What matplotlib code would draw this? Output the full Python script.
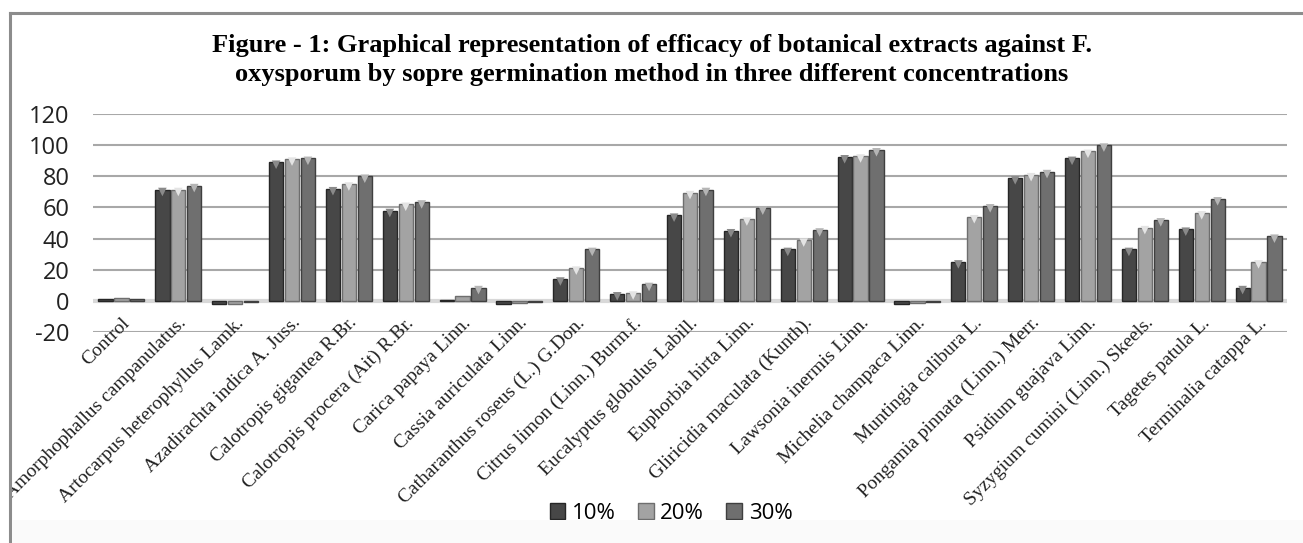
import matplotlib.pyplot as plt
import numpy as np
from matplotlib.lines import Line2D
from matplotlib.patches import Rectangle
from matplotlib.transforms import Bbox, TransformedBbox

plt.rcParams["axes.unicode_minus"] = False

# extracts tested, in chart order
extracts = [
    "Control",
    "Amorphophallus campanulatus.",
    "Artocarpus heterophyllus Lamk.",
    "Azadirachta indica A. Juss.",
    "Calotropis gigantea R.Br.",
    "Calotropis procera (Ait) R.Br.",
    "Carica papaya Linn.",
    "Cassia auriculata Linn.",
    "Catharanthus roseus (L.) G.Don.",
    "Citrus limon (Linn.) Burm.f.",
    "Eucalyptus globulus Labill.",
    "Euphorbia hirta Linn.",
    "Gliricidia maculata (Kunth).",
    "Lawsonia inermis Linn.",
    "Michelia champaca Linn.",
    "Muntingia calibura L.",
    "Pongamia pinnata (Linn.) Merr.",
    "Psidium guajava Linn.",
    "Syzygium cumini (Linn.) Skeels.",
    "Tagetes patula L.",
    "Terminalia catappa L.",
]

# efficacy (%) at three concentrations
conc_10 = [1.5, 71.5, -2, 89, 72, 58, 0.5, -2, 14, 4.5, 55, 45, 33, 92.5, -2, 25, 79, 91.5, 33, 46, 8.5]
conc_20 = [2, 71.5, -2, 91, 75, 62, 3, -1.5, 21, 5, 69.5, 52.5, 39, 93, -1.5, 54, 81, 96, 47, 56.5, 25]
conc_30 = [1.5, 74, -1, 91.5, 80, 63.5, 8.5, -1, 33, 10.5, 71.5, 59.5, 45.5, 97, -1, 61, 83, 100, 52, 65.5, 41.5]

series_labels = ["10%", "20%", "30%"]
face_colors = ["#474747", "#a3a3a3", "#6f6f6f"]
edge_colors = ["#262626", "#6e6e6e", "#3f3f3f"]
cap_colors = ["#8a8a8a", "#e4e4e4", "#b5b5b5"]

fig = plt.figure(figsize=(13.03, 5.43), dpi=100)
ax = fig.add_axes([0.0714, 0.3886, 0.9163, 0.4015])

x = np.arange(len(extracts))
step = 0.28
width = 0.25
for i, vals in enumerate([conc_10, conc_20, conc_30]):
    xs = x + (i - 1) * step
    ax.bar(xs, vals, width, color=face_colors[i], edgecolor=edge_colors[i],
           linewidth=1.0, zorder=3, label=series_labels[i])
    # little bevel triangle at the top of each bar (Excel 3D style)
    tops = [v - 1.6 if v > 4 else v for v in vals]
    big = [v > 4 for v in vals]
    ax.scatter(xs[big], np.array(tops)[big], marker="v", s=38, color=cap_colors[i],
               edgecolors="none", zorder=4)

ax.set_xlim(-0.5, len(extracts) - 0.5)
ax.set_ylim(-20, 120)
ax.set_yticks(np.arange(-20, 121, 20))
ax.tick_params(axis="y", length=0, pad=17, labelsize=17, labelcolor="#222222")
for lab in ax.get_yticklabels():
    lab.set_family("Open Sans")
ax.set_xticks([])
ax.grid(axis="y", color="#a8a8a8", linewidth=1.5, zorder=0)
for s in ax.spines.values():
    s.set_visible(False)
ax.axhline(0, color="#d8d8d8", linewidth=3, zorder=2)

# labels are cut off by the chart frame on the left, as in the original
frame_clip = TransformedBbox(Bbox([[0.0095, 0], [1, 1]]), fig.transFigure)
for xi, name in zip(x, extracts):
    t = ax.text(xi + 0.1, -12.5, name, rotation=45, rotation_mode="anchor",
                ha="right", va="center", fontsize=14, family="Liberation Serif",
                color="#222222")
    t.set_clip_box(frame_clip)
    t.set_clip_on(True)

fig.text(0.5, 0.917, "Figure - 1: Graphical representation of efficacy of botanical extracts against F.",
         ha="center", va="center", fontsize=19, fontweight="bold", family="Liberation Serif")
fig.text(0.5, 0.862, "oxysporum by sopre germination method in three different concentrations",
         ha="center", va="center", fontsize=19, fontweight="bold", family="Liberation Serif")

leg = fig.legend(loc="center", bbox_to_anchor=(0.515, 0.055), ncol=3, frameon=False,
                 handlelength=0.7, handleheight=0.7, handletextpad=0.3,
                 columnspacing=1.0, prop={"family": "Open Sans", "size": 16})

# chart frame and clipped bottom strip
fig.add_artist(Line2D([0.0077, 0.0077], [0, 0.976], color="#8c8c8c", linewidth=2.2))
fig.add_artist(Line2D([0.0077, 1.0], [0.976, 0.976], color="#8c8c8c", linewidth=2.2))
fig.add_artist(Rectangle((0.009, 0), 0.991, 0.042, facecolor="#fafafa", edgecolor="none", zorder=10))

fig.savefig("out.png", dpi=100)
